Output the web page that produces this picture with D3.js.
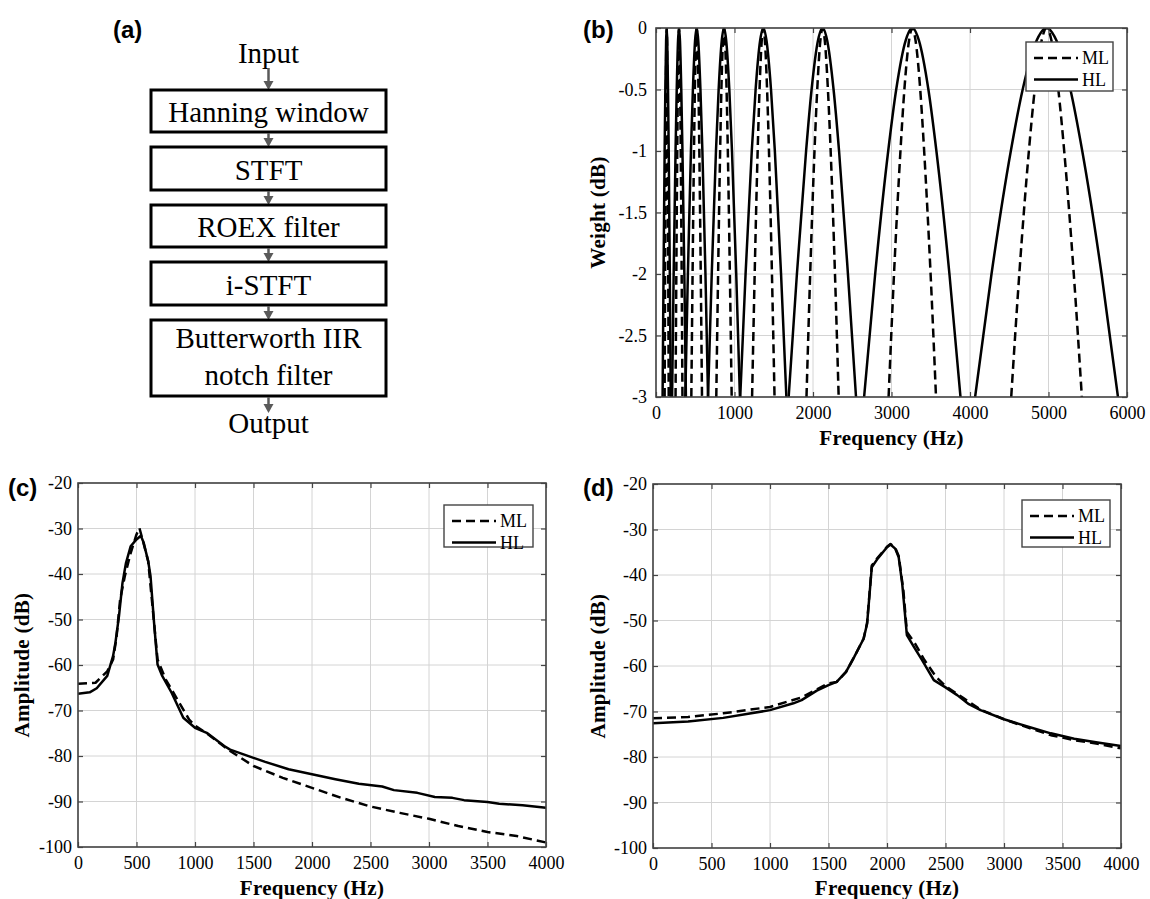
<!DOCTYPE html>
<html>
<head>
<meta charset="utf-8">
<script src="https://cdn.jsdelivr.net/npm/d3@7"></script>
<style>
  body { margin: 0; background: #fff; }
  svg { display: block; }
</style>
</head>
<body>
<svg id="fig" width="1150" height="899"></svg>
<script>
// (a) flow chart
var flowIn = "Input";
var flowOut = "Output";
var flowSteps = [["Hanning window"], ["STFT"], ["ROEX filter"], ["i-STFT"], ["Butterworth IIR", "notch filter"]];

// (b) ROEX filter weights, frequency (Hz) at each weight level
var weightLevels = [-3, -2, -1, -0.5, -0.1, 0, -0.1, -0.5, -1, -2, -3];
var mlFilters = [
  [110, 116, 123, 127, 132, 136, 140, 145, 149, 156, 162],
  [249, 259, 271, 278, 287, 293, 299, 308, 315, 327, 337],
  [450, 466, 484, 495, 509, 518, 527, 541, 552, 570, 586],
  [768, 791, 817, 833, 853, 866, 879, 899, 915, 941, 964],
  [1224, 1257, 1295, 1319, 1347, 1367, 1387, 1415, 1439, 1477, 1510],
  [1917, 1964, 2019, 2054, 2094, 2122, 2150, 2190, 2225, 2280, 2327],
  [2963, 3032, 3114, 3164, 3224, 3265, 3306, 3366, 3416, 3498, 3567],
  [4525, 4628, 4750, 4825, 4913, 4975, 5037, 5125, 5200, 5322, 5425]
];
var hlFilters = [
  [84, 96, 110, 119, 129, 136, 143, 153, 162, 176, 188],
  [205, 225, 249, 264, 281, 293, 305, 322, 337, 361, 381],
  [373, 406, 445, 470, 498, 518, 538, 566, 591, 630, 663],
  [663, 710, 764, 798, 838, 866, 894, 934, 968, 1022, 1069],
  [1073, 1141, 1220, 1269, 1327, 1367, 1407, 1465, 1514, 1593, 1661],
  [1690, 1795, 1912, 1982, 2064, 2122, 2180, 2262, 2332, 2445, 2548],
  [2651, 2792, 2958, 3060, 3181, 3265, 3349, 3470, 3572, 3738, 3879],
  [4065, 4274, 4520, 4671, 4850, 4975, 5100, 5279, 5430, 5676, 5885]
];
var freqTicksB = [0, 1000, 2000, 3000, 4000, 5000, 6000];
var weightTicks = [0, -0.5, -1, -1.5, -2, -2.5, -3];

// (c) amplitude response
var hlFreqC = [0, 100, 160, 250, 300, 320, 350, 380, 410, 450, 500, 537, 560, 600, 620, 650, 680, 720, 800, 900, 1000, 1100, 1250, 1300, 1500, 1600, 1800, 2000, 2200, 2400, 2600, 2700, 2900, 3050, 3200, 3300, 3500, 3600, 3800, 4000];
var hlAmpC = [-66.3, -66.0, -65.1, -62.4, -58.0, -55.1, -49.3, -42.0, -37.6, -33.9, -32.4, -31.6, -33.0, -37.2, -40.5, -50.7, -59.9, -62.4, -66.1, -71.6, -73.8, -74.9, -77.8, -78.6, -80.4, -81.3, -82.9, -84.0, -85.1, -86.1, -86.7, -87.5, -88.1, -89.0, -89.2, -89.7, -90.1, -90.5, -90.8, -91.4];
var mlFreqC = [0, 150, 250, 300, 330, 360, 400, 450, 500, 525, 560, 600, 650, 680, 750, 850, 950, 1000, 1100, 1300, 1500, 1750, 2000, 2250, 2500, 2750, 3000, 3250, 3500, 3750, 4000];
var mlAmpC = [-64.1, -63.9, -61.4, -58.8, -53.7, -45.6, -40.5, -35.4, -31.3, -29.9, -33.2, -37.2, -50.7, -58.8, -63.2, -67.6, -72.0, -73.3, -75.0, -78.9, -82.2, -84.8, -87.0, -89.2, -91.1, -92.5, -93.8, -95.4, -96.7, -97.6, -99.0];

// (d) amplitude response
var hlFreqD = [0, 300, 600, 1000, 1200, 1270, 1400, 1500, 1570, 1650, 1720, 1800, 1830, 1870, 1920, 2000, 2030, 2070, 2100, 2130, 2170, 2230, 2300, 2400, 2500, 2600, 2700, 2800, 3000, 3200, 3400, 3600, 3800, 4000];
var hlAmpD = [-72.6, -72.2, -71.4, -69.7, -68.2, -67.5, -65.4, -64.2, -63.5, -61.3, -58.0, -54.0, -50.7, -38.3, -36.4, -33.9, -33.3, -34.2, -36.1, -41.9, -53.2, -55.8, -58.7, -63.1, -64.7, -66.4, -68.4, -69.7, -71.7, -73.3, -74.8, -76.0, -76.8, -77.6];
var mlFreqD = [0, 300, 600, 1000, 1270, 1500, 1570, 1650, 1720, 1800, 1830, 1870, 1920, 2000, 2030, 2070, 2100, 2140, 2170, 2240, 2320, 2420, 2500, 2650, 2800, 3000, 3200, 3400, 3600, 3800, 4000];
var mlAmpD = [-71.5, -71.2, -70.4, -69.0, -66.9, -63.8, -63.5, -61.3, -58.0, -54.0, -50.5, -37.9, -36.2, -33.8, -33.2, -34.0, -35.8, -43.4, -52.5, -55.1, -58.7, -62.4, -64.4, -67.0, -69.6, -71.7, -73.5, -75.2, -76.3, -77.1, -78.1];

var freqTicksCD = [0, 500, 1000, 1500, 2000, 2500, 3000, 3500, 4000];
var ampTicks = [-20, -30, -40, -50, -60, -70, -80, -90, -100];
var legendNames = ["ML", "HL"];

var serif = "'Liberation Serif', 'Times New Roman', serif";
var sans = "'Liberation Sans', Arial, sans-serif";
var dash = "9,5";

var svg = d3.select("#fig");

// panel letters
svg.selectAll("text.plabel")
  .data([["(a)", 113, 38], ["(b)", 583, 38], ["(c)", 8, 496], ["(d)", 583, 496]])
  .enter().append("text")
    .attr("x", function (d) { return d[1]; })
    .attr("y", function (d) { return d[2]; })
    .attr("font-family", sans).attr("font-weight", "bold").attr("font-size", 24)
    .text(function (d) { return d[0]; });

// ---------- (a) flow chart ----------
var boxL = 151, boxR = 386, cx = (boxL + boxR) / 2;
var boxYs = [[90, 132], [147, 190], [205, 247], [262, 305], [320, 396]];
var ga = svg.append("g");

function arrow(y1, y2) {
  ga.append("line").attr("x1", cx).attr("x2", cx).attr("y1", y1).attr("y2", y2 - 7)
    .attr("stroke", "#5a5a5a").attr("stroke-width", 2.5);
  ga.append("path").attr("d", "M" + (cx - 5) + "," + (y2 - 9) + "L" + (cx + 5) + "," + (y2 - 9) + "L" + cx + "," + y2 + "Z")
    .attr("fill", "#5a5a5a");
}

ga.append("text").attr("x", cx).attr("y", 63).attr("text-anchor", "middle")
  .attr("font-family", serif).attr("font-size", 29).text(flowIn);
arrow(68, boxYs[0][0]);

flowSteps.forEach(function (lines, i) {
  var y0 = boxYs[i][0], y1 = boxYs[i][1], mid = (y0 + y1) / 2;
  ga.append("rect").attr("x", boxL).attr("y", y0).attr("width", boxR - boxL).attr("height", y1 - y0)
    .attr("fill", "#fff").attr("stroke", "#000").attr("stroke-width", 3);
  lines.forEach(function (t, j) {
    var base = lines.length == 1 ? mid + 11 : mid - 10 + j * 37;
    ga.append("text").attr("x", cx).attr("y", base).attr("text-anchor", "middle")
      .attr("font-family", serif).attr("font-size", 29).text(t);
  });
  if (i < flowSteps.length - 1) arrow(y1 + 1, boxYs[i + 1][0]);
});
arrow(397, 413);
ga.append("text").attr("x", cx).attr("y", 433).attr("text-anchor", "middle")
  .attr("font-family", serif).attr("font-size", 29).text(flowOut);

// ---------- plotting helper ----------
function panel(o) {
  var x = d3.scaleLinear().domain(o.xDomain).range([o.left, o.right]);
  var y = d3.scaleLinear().domain(o.yDomain).range([o.bottom, o.top]);
  var g = svg.append("g");
  var clipId = "clip" + o.id;
  g.append("clipPath").attr("id", clipId).append("rect")
    .attr("x", o.left).attr("y", o.top).attr("width", o.right - o.left).attr("height", o.bottom - o.top);

  // grid
  g.selectAll("line.gx").data(o.xTicks).enter().append("line")
    .attr("x1", x).attr("x2", x).attr("y1", o.top).attr("y2", o.bottom)
    .attr("stroke", "#d4d4d4").attr("stroke-width", 1);
  g.selectAll("line.gy").data(o.yTicks).enter().append("line")
    .attr("y1", y).attr("y2", y).attr("x1", o.left).attr("x2", o.right)
    .attr("stroke", "#d4d4d4").attr("stroke-width", 1);

  // curves
  var cg = g.append("g").attr("clip-path", "url(#" + clipId + ")");
  o.series.forEach(function (s) {
    var line = d3.line().x(function (d) { return x(d[0]); }).y(function (d) { return y(d[1]); })
      .curve(s.curve || d3.curveLinear);
    cg.append("path").datum(s.points).attr("d", line)
      .attr("fill", "none").attr("stroke", "#000").attr("stroke-width", 2.5)
      .attr("stroke-dasharray", s.dashed ? dash : null)
      .attr("stroke-linejoin", "round");
  });

  // axes, ticks pointing inward
  var fmt = function (d) { return String(d); };
  var ax = [
    g.append("g").attr("transform", "translate(0," + o.bottom + ")")
      .call(d3.axisBottom(x).tickValues(o.xTicks).tickFormat(fmt).tickSizeInner(-5).tickSizeOuter(0).tickPadding(9)),
    g.append("g").attr("transform", "translate(" + o.left + ",0)")
      .call(d3.axisLeft(y).tickValues(o.yTicks).tickFormat(fmt).tickSizeInner(-5).tickSizeOuter(0).tickPadding(o.yPad)),
    g.append("g").attr("transform", "translate(0," + o.top + ")")
      .call(d3.axisTop(x).tickValues(o.xTicks).tickFormat("").tickSizeInner(-5).tickSizeOuter(0)),
    g.append("g").attr("transform", "translate(" + o.right + ",0)")
      .call(d3.axisRight(y).tickValues(o.yTicks).tickFormat("").tickSizeInner(-5).tickSizeOuter(0))
  ];
  ax.forEach(function (a) {
    a.attr("font-family", serif).attr("font-size", 18);
    a.select(".domain").remove();
    a.selectAll(".tick line").attr("stroke", "#444").attr("stroke-width", 1.2);
    a.selectAll("text").attr("fill", "#000");
  });

  g.append("rect").attr("x", o.left).attr("y", o.top).attr("width", o.right - o.left).attr("height", o.bottom - o.top)
    .attr("fill", "none").attr("stroke", "#444").attr("stroke-width", 1.6);

  // axis titles
  g.append("text").attr("x", (o.left + o.right) / 2).attr("y", o.xTitleY).attr("text-anchor", "middle")
    .attr("font-family", serif).attr("font-weight", "bold").attr("font-size", 21)
    .attr("letter-spacing", 0.3).text(o.xTitle);
  g.append("text").attr("transform", "translate(" + o.yTitleX + "," + (o.top + o.bottom) / 2 + ") rotate(-90)")
    .attr("text-anchor", "middle")
    .attr("font-family", serif).attr("font-weight", "bold").attr("font-size", 21)
    .attr("letter-spacing", 0.3).text(o.yTitle);

  // legend
  var L = o.legend;
  var lg = g.append("g");
  lg.append("rect").attr("x", L.x).attr("y", L.y).attr("width", L.w).attr("height", L.h)
    .attr("fill", "#fff").attr("stroke", "#444").attr("stroke-width", 1.4);
  legendNames.forEach(function (n, i) {
    var ry = L.y + 16 + i * 21.5;
    lg.append("line").attr("x1", L.x + 8).attr("x2", L.x + 52).attr("y1", ry).attr("y2", ry)
      .attr("stroke", "#000").attr("stroke-width", 2.5).attr("stroke-dasharray", i == 0 ? dash : null);
    lg.append("text").attr("x", L.x + 56).attr("y", ry + 6)
      .attr("font-family", serif).attr("font-size", 18).text(n);
  });
}

function zipPts(xs, ys) { return xs.map(function (v, i) { return [v, ys[i]]; }); }

// ---------- (b) ----------
var seriesB = [];
mlFilters.forEach(function (f) {
  seriesB.push({ points: zipPts(f, weightLevels), dashed: true, curve: d3.curveMonotoneX });
});
hlFilters.forEach(function (f) {
  seriesB.push({ points: zipPts(f, weightLevels), dashed: false, curve: d3.curveMonotoneX });
});
panel({
  id: "b", left: 656, right: 1127, top: 28, bottom: 397,
  xDomain: [0, 6000], yDomain: [-3, 0], xTicks: freqTicksB, yTicks: weightTicks, yPad: 9,
  series: seriesB, xTitle: "Frequency (Hz)", xTitleY: 445, yTitle: "Weight (dB)", yTitleX: 605,
  legend: { x: 1026, y: 42, w: 87, h: 49 }
});

// ---------- (c) ----------
panel({
  id: "c", left: 78, right: 546, top: 483, bottom: 847,
  xDomain: [0, 4000], yDomain: [-100, -20], xTicks: freqTicksCD, yTicks: ampTicks, yPad: 6,
  series: [
    { points: zipPts(mlFreqC, mlAmpC), dashed: true },
    { points: zipPts(hlFreqC, hlAmpC), dashed: false }
  ],
  xTitle: "Frequency (Hz)", xTitleY: 895, yTitle: "Amplitude (dB)", yTitleX: 29,
  legend: { x: 444, y: 505, w: 89, h: 42 }
});

// ---------- (d) ----------
panel({
  id: "d", left: 653, right: 1121, top: 484, bottom: 848,
  xDomain: [0, 4000], yDomain: [-100, -20], xTicks: freqTicksCD, yTicks: ampTicks, yPad: 6,
  series: [
    { points: zipPts(mlFreqD, mlAmpD), dashed: true },
    { points: zipPts(hlFreqD, hlAmpD), dashed: false }
  ],
  xTitle: "Frequency (Hz)", xTitleY: 895, yTitle: "Amplitude (dB)", yTitleX: 605,
  legend: { x: 1022, y: 500, w: 88, h: 47 }
});
</script>
</body>
</html>
